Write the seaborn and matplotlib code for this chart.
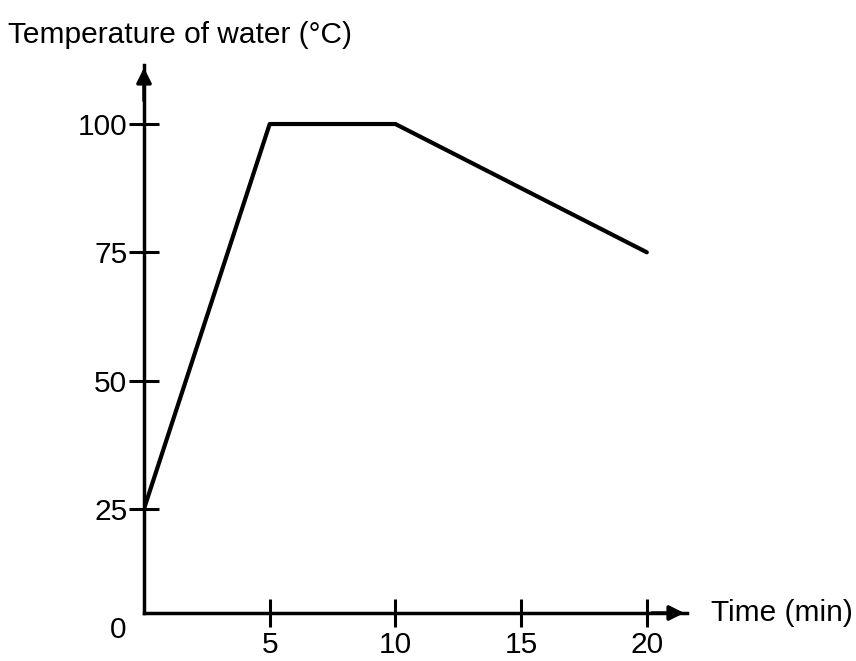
import matplotlib
matplotlib.use("Agg")
import matplotlib.pyplot as plt
import seaborn as sns
import pandas as pd

time_min = [0, 5, 10, 20]
temp_c = [25, 100, 100, 75]
x_ticks = [5, 10, 15, 20]
y_ticks = [25, 50, 75, 100]
y_title = "Temperature of water (°C)"
x_title = "Time (min)"

sns.set_style("ticks")
plt.rcParams['font.family'] = ['Liberation Sans', 'DejaVu Sans']
plt.rcParams['text.color'] = 'black'

df = pd.DataFrame({"time": time_min, "temp": temp_c})

fig = plt.figure(figsize=(8.56, 6.61), dpi=100)
W, H = 856, 661
ax = fig.add_axes([144 / W, (H - 613) / H, (687 - 144) / W, (613 - 65) / H])

sns.lineplot(data=df, x="time", y="temp", color="black", linewidth=3, ax=ax)

ax.set_xlim(0, 21.6)
ax.set_ylim(4.7, 111.5)
ax.set_xticks(x_ticks)
ax.set_yticks(y_ticks)
ax.set_xticklabels([str(v) for v in x_ticks])
ax.set_yticklabels([str(v) for v in y_ticks])
ax.set_xlabel("")
ax.set_ylabel("")

for s in ["top", "right"]:
    ax.spines[s].set_visible(False)
for s in ["left", "bottom"]:
    ax.spines[s].set_linewidth(2.5)
    ax.spines[s].set_color("black")

FS = 21.5
ax.tick_params(axis="y", direction="inout", length=22, width=2.2, labelsize=FS, pad=1, colors="black", labelcolor="black")
ax.tick_params(axis="x", direction="inout", length=20, width=2.2, labelsize=FS, pad=3, colors="black", labelcolor="black")

# arrow heads at the ends of the axes
ax.annotate("", xy=(1.0, 0), xytext=(0.93, 0), xycoords="axes fraction",
            arrowprops=dict(arrowstyle="-|>", color="black", lw=2.5, mutation_scale=22),
            annotation_clip=False)
ax.annotate("", xy=(0, 1.0), xytext=(0, 0.93), xycoords="axes fraction",
            arrowprops=dict(arrowstyle="-|>", color="black", lw=2.5, mutation_scale=22),
            annotation_clip=False)

ax.text(-0.048, -0.031, "0", transform=ax.transAxes, ha="center", va="center", fontsize=FS, color="black")
ax.text(1.045, 0.0, x_title, transform=ax.transAxes, ha="left", va="center", fontsize=FS, color="black")
fig.text(8 / W, 1 - 35 / H, y_title, ha="left", va="center", fontsize=FS, color="black")

fig.savefig("out.png", dpi=100)
